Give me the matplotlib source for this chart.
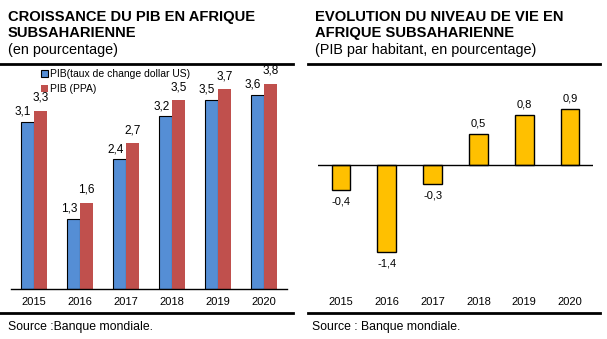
import matplotlib.pyplot as plt
import numpy as np
from matplotlib.lines import Line2D

plt.rcParams['font.family'] = ['Liberation Sans', 'DejaVu Sans']

years = ['2015', '2016', '2017', '2018', '2019', '2020']
pib_usd = [3.1, 1.3, 2.4, 3.2, 3.5, 3.6]
pib_ppa = [3.3, 1.6, 2.7, 3.5, 3.7, 3.8]
pib_hab = [-0.4, -1.4, -0.3, 0.5, 0.8, 0.9]

BLUE = '#558ED5'
RED = '#C0504D'
YELLOW = '#FFC000'

W, H = 607, 339
fig = plt.figure(figsize=(W / 100, H / 100), dpi=100)


def fx(px):
    return px / W


def fy(py):
    return 1 - py / H


def fmt(v):
    return ('%.1f' % v).replace('.', ',')


def hline(x0, x1, y, lw=2):
    fig.add_artist(Line2D([fx(x0), fx(x1)], [fy(y), fy(y)], color='black', lw=lw,
                          transform=fig.transFigure))


# --- left: croissance du PIB ---
ax1 = fig.add_axes([fx(11), fy(289), fx(276), 216 / H])
x = np.arange(len(years))
bw = 0.29
ax1.bar(x - bw / 2, pib_usd, bw, color=BLUE, edgecolor='black', linewidth=0.8,
        label='PIB(taux de change dollar US)')
ax1.bar(x + bw / 2, pib_ppa, bw, color=RED, label='PIB (PPA)')
for xi, v in zip(x, pib_usd):
    ax1.annotate(fmt(v), (xi - bw / 2, v), xytext=(-3, 3), textcoords='offset points',
                 ha='center', va='bottom', fontsize=8.5)
for xi, v in zip(x, pib_ppa):
    ax1.annotate(fmt(v), (xi + bw / 2, v), xytext=(0, 5), textcoords='offset points',
                 ha='center', va='bottom', fontsize=8.5)
ax1.set_xlim(-0.5, 5.5)
ax1.set_ylim(0, 4)
ax1.set_xticks(x)
ax1.set_xticklabels(years, fontsize=8)
ax1.tick_params(axis='x', length=0, pad=6)
ax1.set_yticks([])
for s in ['top', 'right', 'left']:
    ax1.spines[s].set_visible(False)
ax1.spines['bottom'].set_linewidth(1)
ax1.patch.set_alpha(0)
ax1.legend(loc='upper left', bbox_to_anchor=(fx(34), fy(62)), bbox_transform=fig.transFigure,
           frameon=False, fontsize=7.5, handlelength=0.6, handleheight=0.6,
           handletextpad=0.25, labelspacing=0.45, borderpad=0.2)

fig.text(fx(8), fy(17), 'CROISSANCE DU PIB EN AFRIQUE', fontsize=10.6, fontweight='bold', va='center')
fig.text(fx(8), fy(33), 'SUBSAHARIENNE', fontsize=10.6, fontweight='bold', va='center')
fig.text(fx(8), fy(50), '(en pourcentage)', fontsize=10.4, va='center')
hline(0, 293, 64)
hline(0, 293, 313)
fig.text(fx(8), fy(327), 'Source :Banque mondiale.', fontsize=8.8, va='center')

# --- right: niveau de vie ---
ax2 = fig.add_axes([fx(318), fy(289), fx(275), 217 / H])
ax2.bar(x, pib_hab, 0.41, color=YELLOW, edgecolor='black', linewidth=1)
for xi, v in zip(x, pib_hab):
    if v >= 0:
        ax2.annotate(fmt(v), (xi, v), xytext=(0, 4), textcoords='offset points',
                     ha='center', va='bottom', fontsize=8)
    else:
        ax2.annotate(fmt(v), (xi, v), xytext=(0, -5), textcoords='offset points',
                     ha='center', va='top', fontsize=8)
ax2.axhline(0, color='black', lw=1)
ax2.set_xlim(-0.5, 5.5)
ax2.set_ylim(-2, 1.5)
ax2.set_xticks(x)
ax2.set_xticklabels(years, fontsize=8)
ax2.tick_params(axis='x', length=0, pad=6)
ax2.set_yticks([])
for s in ax2.spines.values():
    s.set_visible(False)
ax2.patch.set_alpha(0)

fig.text(fx(315), fy(17), 'EVOLUTION DU NIVEAU DE VIE EN', fontsize=10.6, fontweight='bold', va='center')
fig.text(fx(315), fy(33), 'AFRIQUE SUBSAHARIENNE', fontsize=10.6, fontweight='bold', va='center')
fig.text(fx(315), fy(50), '(PIB par habitant, en pourcentage)', fontsize=10.4, va='center')
hline(308, 600, 64)
hline(308, 600, 313)
fig.text(fx(312), fy(327), 'Source : Banque mondiale.', fontsize=8.8, va='center')

fig.savefig('out.png', dpi=100)
